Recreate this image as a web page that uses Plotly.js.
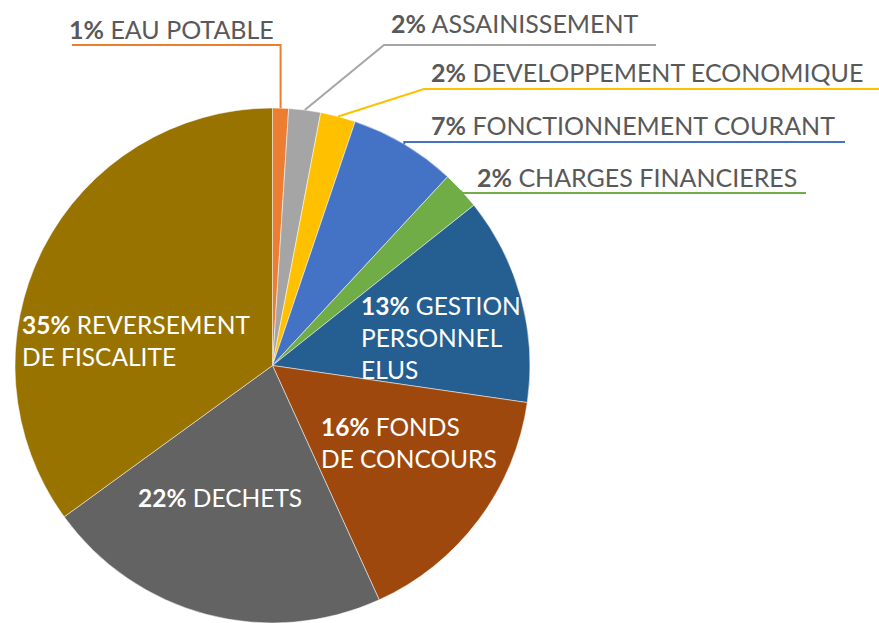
<!DOCTYPE html>
<html>
<head>
<meta charset="utf-8">
<script src="https://cdn.plot.ly/plotly-3.0.1.min.js"></script>
<style>html,body{margin:0;padding:0;background:#fff;}#chart{width:879px;height:623px;}</style>
</head>
<body>
<div id="chart"></div>
<script>
// ---- data ----
const categories = ['EAU POTABLE','ASSAINISSEMENT','DEVELOPPEMENT ECONOMIQUE','FONCTIONNEMENT COURANT','CHARGES FINANCIERES','GESTION PERSONNEL ELUS','FONDS DE CONCOURS','DECHETS','REVERSEMENT DE FISCALITE'];
const values = [1.0, 2.0, 2.2, 6.7, 2.4, 13.0, 15.9, 21.8, 35.0];
const labelLines = ['EAU POTABLE','ASSAINISSEMENT','DEVELOPPEMENT ECONOMIQUE','FONCTIONNEMENT COURANT','CHARGES FINANCIERES','GESTION<br>PERSONNEL<br>ELUS','FONDS<br>DE CONCOURS','DECHETS','REVERSEMENT<br>DE FISCALITE'];
const colors = ['#ED7D31','#A5A5A5','#FFC000','#4472C4','#70AD47','#255E91','#9E480E','#636363','#997300'];

// ---- layout constants (pixels) ----
const W = 879, H = 623;
const M = {l: 15, r: 349, t: 108, b: 0};
const PW = W - M.l - M.r, PH = H - M.t - M.b;
const CX = M.l + PW / 2, CY = M.t + PH / 2, R = Math.min(PW, PH) / 2;
const FONT = 'Lato, "Open Sans", sans-serif';
const FS_OUT = 25;
const FS_IN = 24.5;

// label placement: outside labels with leader lines, inside labels in white
const outside = {
  0: {tx: 67,  ty: 29,  lx: 72,  ly: 45,  lend: null, vertical: true},
  1: {tx: 389, ty: 23,  lx: 384, ly: 45,  lend: 656},
  2: {tx: 429, ty: 72,  lx: 424, ly: 89,  lend: 879},
  3: {tx: 429, ty: 125, lx: null, ly: 142, lend: 845},
  4: {tx: 475, ty: 177, lx: null, ly: 193, lend: 806}
};
const inside = {
  5: {tx: 359, ty: 337},
  6: {tx: 319, ty: 442},
  7: {tx: 136, ty: 497},
  8: {tx: 20,  ty: 340}
};

const px2x = p => (p - M.l) / PW;
const py2y = p => (H - M.b - p) / PH;

const total = values.reduce((a, b) => a + b, 0);
const pctText = values.map(v => Math.round(v / total * 100) + '%');

// mid-angles (clockwise from 12 o'clock)
const mids = [];
let cum = 0;
values.forEach(v => { mids.push((cum + v / 2) / total * 2 * Math.PI); cum += v; });

const annotations = [];
const shapes = [];
categories.forEach((c, i) => {
  const txt = '<b>' + pctText[i] + '</b> ' + labelLines[i];
  if (outside[i]) {
    const o = outside[i];
    annotations.push({x: px2x(o.tx), y: py2y(o.ty), xref: 'paper', yref: 'paper', xanchor: 'left', yanchor: 'middle',
      text: txt, showarrow: false, align: 'left', font: {family: FONT, size: FS_OUT, color: '#595959'}});
    const ex = CX + R * Math.sin(mids[i]);
    const ey = CY - R * Math.cos(mids[i]);
    let path;
    if (o.vertical) {
      path = `M ${px2x(o.lx)} ${py2y(o.ly)} L ${px2x(ex)} ${py2y(o.ly)} L ${px2x(ex)} ${py2y(ey)}`;
    } else {
      const sx = o.lx === null ? ex : o.lx;
      path = `M ${px2x(ex)} ${py2y(ey)} L ${px2x(sx)} ${py2y(o.ly)} L ${px2x(o.lend)} ${py2y(o.ly)}`;
    }
    shapes.push({type: 'path', xref: 'paper', yref: 'paper', path: path, line: {color: colors[i], width: 2}});
  } else if (inside[i]) {
    const o = inside[i];
    annotations.push({x: px2x(o.tx), y: py2y(o.ty), xref: 'paper', yref: 'paper', xanchor: 'left', yanchor: 'middle',
      text: txt, showarrow: false, align: 'left', font: {family: FONT, size: FS_IN, color: '#FFFFFF'}});
  }
});

const trace = {
  type: 'pie',
  labels: categories,
  values: values,
  sort: false,
  direction: 'clockwise',
  rotation: 0,
  textinfo: 'none',
  hoverinfo: 'label+percent',
  marker: {colors: colors, line: {color: '#FFFFFF', width: 0.5}},
  domain: {x: [0, 1], y: [0, 1]},
  showlegend: false
};

const layout = {
  width: W, height: H,
  margin: M,
  paper_bgcolor: '#FFFFFF',
  plot_bgcolor: '#FFFFFF',
  showlegend: false,
  annotations: annotations,
  shapes: shapes,
  font: {family: FONT}
};

Plotly.newPlot('chart', [trace], layout, {displayModeBar: false, staticPlot: true});
</script>
</body>
</html>
